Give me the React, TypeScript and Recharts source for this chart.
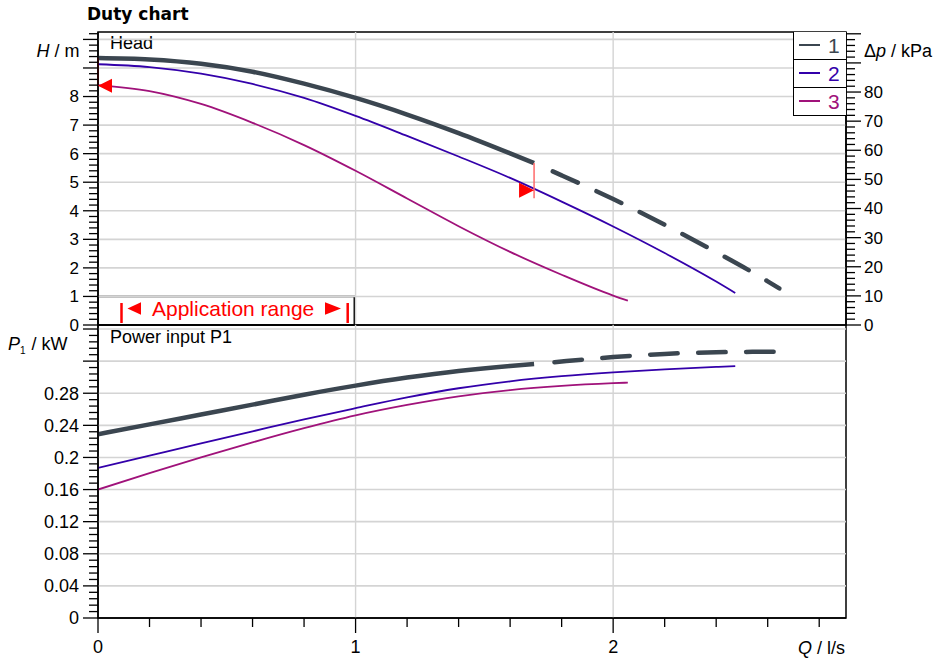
import React from 'react';
import { LineChart, Line, XAxis, YAxis, ReferenceLine, ReferenceArea, ReferenceDot, Legend } from 'recharts';

const FONT = '"Liberation Sans", Arial, Helvetica, sans-serif';
const C1 = '#3b4650';
const C2 = '#3300aa';
const C3 = '#a0127a';
const RED = '#ff0000';
const GRID = '#d4d4d4';

const Q_MAX = 2.904;
const H_MAX = 10.26;
const KPA_PER_M = 9.80665;
const P_MAX = 0.365;

// head curves, H in m over Q in l/s
const HEAD1_Q = [0, 0.2, 0.4, 0.6, 0.8, 1.0, 1.2, 1.4, 1.6, 1.693];
const HEAD1_H = [9.35, 9.3, 9.15, 8.87, 8.45, 7.95, 7.37, 6.72, 6.01, 5.67];
const HEAD1_EXT_Q = [1.693, 1.8, 2.0, 2.2, 2.4, 2.6, 2.645];
const HEAD1_EXT_H = [5.67, 5.24, 4.41, 3.51, 2.55, 1.53, 1.28];
const HEAD2_Q = [0, 0.2, 0.4, 0.6, 0.8, 1.0, 1.2, 1.4, 1.6, 1.8, 2.0, 2.2, 2.4, 2.474];
const HEAD2_H = [9.13, 9.03, 8.8, 8.44, 7.95, 7.32, 6.62, 5.9, 5.15, 4.32, 3.45, 2.52, 1.52, 1.12];
const HEAD3_Q = [0, 0.2, 0.4, 0.6, 0.8, 1.0, 1.2, 1.4, 1.6, 1.8, 2.0, 2.057];
const HEAD3_H = [8.4, 8.19, 7.74, 7.08, 6.3, 5.4, 4.43, 3.46, 2.56, 1.76, 1.03, 0.85];

// power input P1 in kW
const POWER1_Q = [0, 0.2, 0.4, 0.6, 0.8, 1.0, 1.2, 1.4, 1.6, 1.693];
const POWER1_P = [0.229, 0.2412, 0.2535, 0.2658, 0.2782, 0.2895, 0.2995, 0.3078, 0.314, 0.3163];
const POWER1_EXT_Q = [1.693, 1.8, 2.0, 2.2, 2.4, 2.6, 2.645];
const POWER1_EXT_P = [0.3163, 0.3195, 0.325, 0.329, 0.331, 0.3317, 0.3318];
const POWER2_Q = [0, 0.2, 0.4, 0.6, 0.8, 1.0, 1.2, 1.4, 1.6, 1.8, 2.0, 2.2, 2.4, 2.474];
const POWER2_P = [0.187, 0.2022, 0.2174, 0.2325, 0.2475, 0.2614, 0.2748, 0.2862, 0.2948, 0.3012, 0.306, 0.3098, 0.3128, 0.3137];
const POWER3_Q = [0, 0.2, 0.4, 0.6, 0.8, 1.0, 1.2, 1.4, 1.6, 1.8, 2.0, 2.057];
const POWER3_P = [0.16, 0.1805, 0.2, 0.2188, 0.2365, 0.2525, 0.2655, 0.2762, 0.284, 0.2892, 0.2925, 0.2932];

// markers: duty point and start of curve 3
const DUTY = { q: 1.693, top: 5.67, bottom: 4.44, h: 4.72 };
const START = { q: 0, top: 9.35, h: 8.38 };
const APP_RANGE = [0, 0.995];

// axis ticks
const H_LABELS = [0, 1, 2, 3, 4, 5, 6, 7, 8];
const H_GRID = [1, 2, 3, 4, 5, 6, 7, 8, 9, 10];
const KPA_LABELS = [0, 10, 20, 30, 40, 50, 60, 70, 80];
const P_LABELS = [0, 0.04, 0.08, 0.12, 0.16, 0.2, 0.24, 0.28];
const P_GRID = [0.04, 0.08, 0.12, 0.16, 0.2, 0.24, 0.28, 0.32, 0.36];
const Q_LABELS = [0, 1, 2];
const Q_GRID = [1, 2];
const SERIES_NAMES = ['1', '2', '3'];

const steps = (max: number, step: number) =>
  Array.from({ length: Math.round(max / step) + 1 }, (_, i) => +(i * step).toFixed(4));

const H_TICKS = steps(10.2, 0.2);
const KPA_TICKS = steps(100, 2);
const P_TICKS = steps(0.36, 0.008);
const Q_TICKS = steps(2.8, 0.2);

const zip = (qs: number[], vs: number[], key: string) => qs.map((q, i) => ({ q, [key]: vs[i] }));

const head1 = zip(HEAD1_Q, HEAD1_H, 'h');
const head1Ext = zip(HEAD1_EXT_Q, HEAD1_EXT_H, 'h');
const head2 = zip(HEAD2_Q, HEAD2_H, 'h');
const head3 = zip(HEAD3_Q, HEAD3_H, 'h');
const power1 = zip(POWER1_Q, POWER1_P, 'p');
const power1Ext = zip(POWER1_EXT_Q, POWER1_EXT_P, 'p');
const power2 = zip(POWER2_Q, POWER2_P, 'p');
const power3 = zip(POWER3_Q, POWER3_P, 'p');

function makeTick(side: 'left' | 'right' | 'bottom', majorStep: number, labels: number[], fontSize: number) {
  return (props: any) => {
    const x = props.x ?? 0;
    const y = props.y ?? 0;
    const v = props.payload ? props.payload.value : 0;
    const k = v / majorStep;
    const major = Math.abs(k - Math.round(k)) < 1e-6;
    const len = major ? 15 : 9;
    const lab = labels.find((l) => Math.abs(l - v) < 1e-6);
    const txt = lab === undefined ? '' : String(lab);
    if (side === 'bottom') {
      return (
        <g>
          <line x1={x} x2={x} y1={y} y2={y + len} stroke="#000" strokeWidth={1.3} />
          {txt && (
            <text x={x} y={y + 35} textAnchor="middle" fontSize={fontSize} fontFamily={FONT} fill="#000">
              {txt}
            </text>
          )}
        </g>
      );
    }
    const dir = side === 'left' ? -1 : 1;
    return (
      <g>
        <line x1={x} x2={x + dir * len} y1={y} y2={y} stroke="#000" strokeWidth={1.3} />
        {txt && (
          <text
            x={x + dir * (side === 'left' ? 19 : 18)}
            y={y}
            dy="0.35em"
            textAnchor={side === 'left' ? 'end' : 'start'}
            fontSize={fontSize}
            fontFamily={FONT}
            fill="#000"
          >
            {txt}
          </text>
        )}
      </g>
    );
  };
}

const renderLegend = (props: any) => {
  const items = (props.payload || []).filter((it: any) => SERIES_NAMES.includes(String(it.value)));
  return (
    <div
      style={{
        width: 53,
        boxSizing: 'border-box',
        borderLeft: '1.5px solid #000',
        borderBottom: '1.5px solid #000',
        background: '#fff',
        fontFamily: FONT,
      }}
    >
      {items.map((it: any, i: number) => (
        <div
          key={it.value}
          style={{
            height: i === 0 ? 27 : 28,
            boxSizing: 'border-box',
            borderTop: i === 0 ? 'none' : '1.5px solid #000',
            display: 'flex',
            alignItems: 'center',
          }}
        >
          <span style={{ display: 'inline-block', width: 21, height: 1.6, background: it.color, marginLeft: 5 }} />
          <span style={{ marginLeft: 8, fontSize: 21, lineHeight: '21px', color: it.color }}>{it.value}</span>
        </div>
      ))}
    </div>
  );
};

const appRangeLabel = (props: any) => {
  const vb = props.viewBox || { x: 0, y: 0, width: 0, height: 0 };
  const left = vb.x;
  const bottom = vb.y + vb.height;
  const cy = bottom - 16.5;
  return (
    <g>
      <line x1={left + 23.5} x2={left + 23.5} y1={bottom - 22} y2={bottom - 2} stroke={RED} strokeWidth={2.5} />
      <polygon points={`${left + 29.5},${cy} ${left + 43},${cy - 6.2} ${left + 43},${cy + 6.2}`} fill={RED} />
      <text x={left + 54} y={bottom - 9} fontSize={21} fontFamily={FONT} fill={RED}>
        Application range
      </text>
      <polygon points={`${left + 227},${cy - 6.2} ${left + 243},${cy} ${left + 227},${cy + 6.2}`} fill={RED} />
      <line x1={left + 249.7} x2={left + 249.7} y1={bottom - 22} y2={bottom - 2} stroke={RED} strokeWidth={2.5} />
    </g>
  );
};

const leftTriangle = (p: any) => (
  <polygon points={`${p.cx},${p.cy} ${p.cx + 14},${p.cy - 7} ${p.cx + 14},${p.cy + 7}`} fill={RED} />
);
const rightTriangle = (p: any) => (
  <polygon points={`${p.cx},${p.cy} ${p.cx - 15},${p.cy - 7.5} ${p.cx - 15},${p.cy + 7.5}`} fill={RED} />
);

export default function App() {
  return (
    <div style={{ position: 'absolute', left: 0, top: 0, width: 936, height: 661, background: '#fff' }}>
      <div style={{ position: 'absolute', left: 0, top: 0 }}>
        <LineChart width={936} height={345} margin={{ top: 32, right: 0, bottom: 20, left: 0 }}>
          <XAxis type="number" dataKey="q" domain={[0, Q_MAX]} allowDataOverflow hide />
          <YAxis
            yAxisId="h"
            orientation="left"
            width={98}
            type="number"
            domain={[0, H_MAX]}
            allowDataOverflow
            ticks={H_TICKS}
            interval={0}
            tickSize={0}
            tickMargin={0}
            tickLine={false}
            axisLine={{ stroke: '#000', strokeWidth: 1.5 }}
            tick={makeTick('left', 1, H_LABELS, 17)}
            label={{
              content: () => (
                <g>
                  <text x={87} y={20} fontFamily='"DejaVu Sans", Verdana, sans-serif' fontWeight="bold" fontSize={17} fill="#000">
                    Duty chart
                  </text>
                  <text x={79.5} y={57} textAnchor="end" fontFamily={FONT} fontSize={18} fill="#000">
                    <tspan fontStyle="italic">H</tspan> / m
                  </text>
                </g>
              ),
            }}
          />
          <YAxis
            yAxisId="kpa"
            orientation="right"
            width={90}
            type="number"
            domain={[0, H_MAX * KPA_PER_M]}
            allowDataOverflow
            ticks={KPA_TICKS}
            interval={0}
            tickSize={0}
            tickMargin={0}
            tickLine={false}
            axisLine={{ stroke: '#000', strokeWidth: 1.5 }}
            tick={makeTick('right', 10, KPA_LABELS, 17)}
            label={{
              content: () => (
                <text x={864} y={57} fontFamily={FONT} fontSize={18} fill="#000">
                  Δ<tspan fontStyle="italic">p</tspan> / kPa
                </text>
              ),
            }}
          />
          {H_GRID.map((v) => (
            <ReferenceLine key={`hg${v}`} yAxisId="h" y={v} stroke={GRID} strokeWidth={1.6} />
          ))}
          {Q_GRID.map((v) => (
            <ReferenceLine key={`qg${v}`} yAxisId="h" x={v} stroke={GRID} strokeWidth={1.4} />
          ))}
          <Line data={head1} dataKey="h" name="1" yAxisId="h" type="monotone" stroke={C1} strokeWidth={4.5} dot={false} activeDot={false} isAnimationActive={false} />
          <Line
            data={head1Ext}
            dataKey="h"
            name="1 (extended)"
            legendType="none"
            yAxisId="h"
            type="monotone"
            stroke={C1}
            strokeWidth={4.5}
            strokeDasharray="27.5 20.5"
            strokeDashoffset={27.5}
            strokeLinecap="round"
            dot={false}
            activeDot={false}
            isAnimationActive={false}
          />
          <Line data={head2} dataKey="h" name="2" yAxisId="h" type="monotone" stroke={C2} strokeWidth={1.8} dot={false} activeDot={false} isAnimationActive={false} />
          <Line data={head3} dataKey="h" name="3" yAxisId="h" type="monotone" stroke={C3} strokeWidth={1.8} dot={false} activeDot={false} isAnimationActive={false} />
          <ReferenceArea
            yAxisId="h"
            x1={APP_RANGE[0]}
            x2={APP_RANGE[1]}
            y1={0}
            y2={1}
            fill="#fff"
            fillOpacity={1}
            stroke="#000"
            strokeWidth={1.5}
            label={{ content: appRangeLabel }}
          />
          <ReferenceArea
            yAxisId="h"
            x1={0}
            x2={Q_MAX}
            y1={0}
            y2={H_MAX}
            fill="none"
            stroke="#000"
            strokeWidth={1.5}
            label={{
              content: (p: any) => (
                <text x={(p.viewBox?.x ?? 98) + 12} y={(p.viewBox?.y ?? 32) + 17} fontFamily={FONT} fontSize={18} fill="#000">
                  Head
                </text>
              ),
            }}
          />
          <ReferenceLine yAxisId="h" segment={[{ x: START.q, y: START.top }, { x: START.q, y: START.h }]} stroke="#b00000" strokeWidth={1.6} />
          <ReferenceLine yAxisId="h" segment={[{ x: DUTY.q, y: DUTY.top }, { x: DUTY.q, y: DUTY.bottom }]} stroke="#ff6a6a" strokeWidth={1.5} />
          <ReferenceDot yAxisId="h" x={START.q} y={START.h} r={7} shape={leftTriangle} />
          <ReferenceDot yAxisId="h" x={DUTY.q} y={DUTY.h} r={7} shape={rightTriangle} />
          <Legend
            layout="horizontal"
            verticalAlign="middle"
            align="center"
            content={renderLegend}
            wrapperStyle={{ left: 793, top: 31.5, width: 53, height: 'auto' }}
          />
        </LineChart>
      </div>

      <div style={{ position: 'absolute', left: 0, top: 320 }}>
        <LineChart width={936} height={341} margin={{ top: 5, right: 90, bottom: 0, left: 0 }}>
          <XAxis
            type="number"
            dataKey="q"
            domain={[0, Q_MAX]}
            allowDataOverflow
            ticks={Q_TICKS}
            interval={0}
            height={43}
            tickSize={0}
            tickMargin={0}
            tickLine={false}
            axisLine={{ stroke: '#000', strokeWidth: 1.5 }}
            tick={makeTick('bottom', 1, Q_LABELS, 18)}
            label={{
              content: () => (
                <text x={845} y={333.5} textAnchor="end" fontFamily={FONT} fontSize={18} fill="#000">
                  <tspan fontStyle="italic">Q</tspan> / l/s
                </text>
              ),
            }}
          />
          <YAxis
            yAxisId="p"
            orientation="left"
            width={98}
            type="number"
            domain={[0, P_MAX]}
            allowDataOverflow
            ticks={P_TICKS}
            interval={0}
            tickSize={0}
            tickMargin={0}
            tickLine={false}
            axisLine={{ stroke: '#000', strokeWidth: 1.5 }}
            tick={makeTick('left', 0.04, P_LABELS, 18)}
            label={{
              content: () => (
                <text x={8} y={30} fontFamily={FONT} fontSize={18} fill="#000">
                  <tspan fontStyle="italic">P</tspan>
                  <tspan fontSize={10} dy={4}>1</tspan>
                  <tspan x={31.5} dy={-4}>/ kW</tspan>
                </text>
              ),
            }}
          />
          {P_GRID.map((v) => (
            <ReferenceLine key={`pg${v}`} yAxisId="p" y={v} stroke={GRID} strokeWidth={1.6} />
          ))}
          {Q_GRID.map((v) => (
            <ReferenceLine key={`qg${v}`} yAxisId="p" x={v} stroke={GRID} strokeWidth={1.4} />
          ))}
          <Line data={power1} dataKey="p" name="1" yAxisId="p" type="monotone" stroke={C1} strokeWidth={4.5} dot={false} activeDot={false} isAnimationActive={false} />
          <Line
            data={power1Ext}
            dataKey="p"
            name="1 (extended)"
            yAxisId="p"
            type="monotone"
            stroke={C1}
            strokeWidth={4.5}
            strokeDasharray="27.5 20.5"
            strokeDashoffset={27.5}
            strokeLinecap="round"
            dot={false}
            activeDot={false}
            isAnimationActive={false}
          />
          <Line data={power2} dataKey="p" name="2" yAxisId="p" type="monotone" stroke={C2} strokeWidth={1.8} dot={false} activeDot={false} isAnimationActive={false} />
          <Line data={power3} dataKey="p" name="3" yAxisId="p" type="monotone" stroke={C3} strokeWidth={1.8} dot={false} activeDot={false} isAnimationActive={false} />
          <ReferenceArea
            yAxisId="p"
            x1={0}
            x2={Q_MAX}
            y1={0}
            y2={P_MAX}
            fill="none"
            stroke="#000"
            strokeWidth={1.5}
            label={{
              content: (p: any) => (
                <text x={(p.viewBox?.x ?? 98) + 12} y={(p.viewBox?.y ?? 5) + 18.3} fontFamily={FONT} fontSize={18} fill="#000">
                  Power input P1
                </text>
              ),
            }}
          />
        </LineChart>
      </div>
    </div>
  );
}
